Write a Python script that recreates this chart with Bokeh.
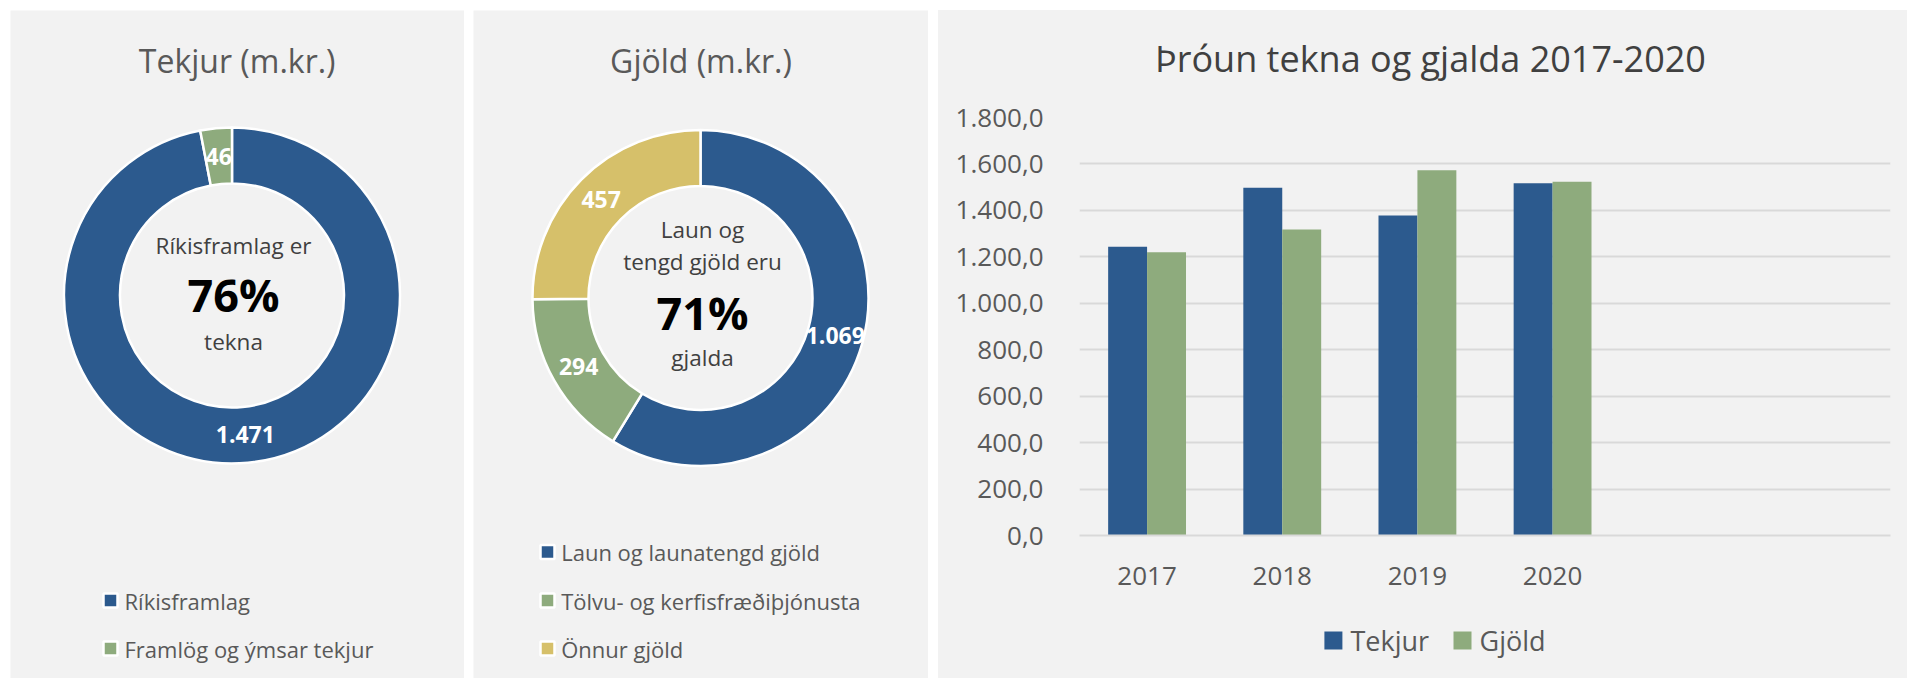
import math
from bokeh.plotting import figure
from bokeh.layouts import row, column
from bokeh.models import Range1d, FactorRange, FixedTicker, ColumnDataSource
from bokeh.transform import dodge
from bokeh.core.properties import value
from bokeh.embed import file_html
from bokeh.resources import INLINE

# ---------------- data ----------------
tekjur_labels = ["Ríkisframlag", "Framlög og ýmsar tekjur"]
tekjur_values = [1471, 46]
tekjur_center = ["Ríkisframlag er", "76%", "tekna"]

gjold_labels = ["Laun og launatengd gjöld", "Tölvu- og kerfisfræðiþjónusta", "Önnur gjöld"]
gjold_values = [1069, 294, 457]
gjold_center = ["Laun og", "tengd gjöld eru", "71%", "gjalda"]

years = ["2017", "2018", "2019", "2020"]
empty_slots = [" ", "  "]
bar_series = ["Tekjur", "Gjöld"]
bar_tekjur = [1243, 1497, 1378, 1517]
bar_gjold = [1220, 1318, 1573, 1523]
y_ticks = [0, 200, 400, 600, 800, 1000, 1200, 1400, 1600, 1800]
y_tick_labels = ["0,0", "200,0", "400,0", "600,0", "800,0", "1.000,0",
                 "1.200,0", "1.400,0", "1.600,0", "1.800,0"]

titles = ["Tekjur (m.kr.)", "Gjöld (m.kr.)", "Þróun tekna og gjalda 2017-2020"]

# ---------------- style ----------------
FONT = "Open Sans"
BG = "#f2f2f2"
BLUE = "#2c5a8e"
GREEN = "#8eab7d"
GOLD = "#d6c06a"
GRAY = "#595959"
DARK = "#404040"

BL, BR = 141, 17  # bar panel side borders (frame alignment in the column)


def fmt(v):
    return f"{v:,}".replace(",", ".")


def base_fig(w, h, x0=0, x1=None, bl=0, br=0):
    p = figure(width=w, height=h, x_range=Range1d(x0, w if x1 is None else x1),
               y_range=Range1d(0, h),
               x_axis_type=None, y_axis_type=None,
               output_backend="svg", toolbar_location=None, min_border=0,
               min_border_left=bl, min_border_right=br,
               background_fill_color=BG, border_fill_color=BG, outline_line_color=None)
    p.grid.visible = False
    return p


def donut(p, values, colors, cx, cy):
    tot = float(sum(values))
    cum = 0.0
    starts, ends, lx, ly = [], [], [], []
    for v in values:
        a0 = math.pi / 2 - 2 * math.pi * cum / tot
        cum += v
        a1 = math.pi / 2 - 2 * math.pi * cum / tot
        starts.append(a0)
        ends.append(a1)
        m = (a0 + a1) / 2
        lx.append(cx + 140 * math.cos(m))
        ly.append(cy + 140 * math.sin(m))
    src = ColumnDataSource(dict(x=[cx] * len(values), y=[cy] * len(values),
                                s=starts, e=ends, c=colors))
    p.annular_wedge(x="x", y="y", inner_radius=112, outer_radius=168,
                    start_angle="s", end_angle="e", direction="clock",
                    fill_color="c", line_color="white", line_width=2.5, source=src)
    p.text(x=lx, y=ly, text=[fmt(v) for v in values], text_font=value(FONT),
           text_font_size="23px", text_font_style="bold", text_color="white",
           text_align="center", text_baseline="middle")


def legend(p, labels, colors, mx, tx, ys, size="22px"):
    p.scatter(x=[mx] * len(labels), y=ys, marker="square", size=14,
              fill_color=colors, line_color="white", line_width=2.5)
    p.text(x=[tx] * len(labels), y=ys, text=labels, text_font=value(FONT),
           text_font_size=size, text_color=GRAY, text_align="left",
           text_baseline="middle")


# ---------------- panel 1: Tekjur ----------------
H = 668
p1 = base_fig(454, H)
p1.text(x=[226.7], y=[618], text=[titles[0]], text_font=value(FONT),
        text_font_size="32px", text_color=GRAY, text_align="center", text_baseline="middle")
donut(p1, tekjur_values, [BLUE, GREEN], 221.5, 383)
p1.text(x=[223, 223], y=[433, 337], text=[tekjur_center[0], tekjur_center[2]],
        text_font=value(FONT), text_font_size="22.5px", text_color=DARK,
        text_align="center", text_baseline="middle")
p1.text(x=[223], y=[384], text=[tekjur_center[1]], text_font=value(FONT),
        text_font_size="45px", text_font_style="bold", text_color="black",
        text_align="center", text_baseline="middle")
legend(p1, tekjur_labels, [BLUE, GREEN], 100, 114, [78, 30])
p1.margin = (10, 0, 0, 10)

# ---------------- panel 2: Gjöld ----------------
p2 = base_fig(455, H)
p2.text(x=[227.5], y=[618], text=[titles[1]], text_font=value(FONT),
        text_font_size="32px", text_color=GRAY, text_align="center", text_baseline="middle")
donut(p2, gjold_values, [BLUE, GREEN, GOLD], 227, 380.5)
p2.text(x=[229, 229, 229], y=[449.5, 417.5, 321],
        text=[gjold_center[0], gjold_center[1], gjold_center[3]],
        text_font=value(FONT), text_font_size="22.5px", text_color=DARK,
        text_align="center", text_baseline="middle")
p2.text(x=[229], y=[366], text=[gjold_center[2]], text_font=value(FONT),
        text_font_size="45px", text_font_style="bold", text_color="black",
        text_align="center", text_baseline="middle")
legend(p2, gjold_labels, [BLUE, GREEN, GOLD], 74, 87.7, [126.5, 78, 30])
p2.margin = (10, 0, 0, 9)

# ---------------- panel 3: bar chart ----------------
W3 = 969
pt = base_fig(W3, 80, x0=BL, x1=W3 - BR, bl=BL, br=BR)
pt.text(x=[492], y=[31.6], text=[titles[2]], text_font=value(FONT),
        text_font_size="36px", text_color=DARK, text_align="center", text_baseline="middle")

factors = years + empty_slots
src = ColumnDataSource(dict(year=years, tekjur=bar_tekjur, gjold=bar_gjold))
pb = figure(width=W3, height=510, x_range=FactorRange(factors=factors, range_padding=0),
            y_range=Range1d(0, 1800), output_backend="svg", toolbar_location=None,
            min_border_left=BL, min_border_right=BR, min_border_top=27, min_border_bottom=65,
            background_fill_color=BG, border_fill_color=BG, outline_line_color=None)
pb.vbar(x=dodge("year", -0.144, range=pb.x_range), top="tekjur", width=0.288,
        source=src, fill_color=BLUE, line_color=None)
pb.vbar(x=dodge("year", 0.144, range=pb.x_range), top="gjold", width=0.288,
        source=src, fill_color=GREEN, line_color=None)
pb.xgrid.visible = False
pb.ygrid.ticker = FixedTicker(ticks=y_ticks)
pb.ygrid.grid_line_color = "#d9d9d9"
pb.ygrid.grid_line_width = 2
pb.yaxis.ticker = FixedTicker(ticks=y_ticks)
pb.yaxis.major_label_overrides = {t: l for t, l in zip(y_ticks, y_tick_labels)}
for ax in (pb.xaxis, pb.yaxis):
    ax.axis_line_color = None
    ax.major_tick_line_color = None
    ax.minor_tick_line_color = None
    ax.major_label_text_font = FONT
    ax.major_label_text_font_size = "26px"
    ax.major_label_text_color = GRAY
pb.xaxis.axis_line_color = "#d9d9d9"
pb.xaxis.axis_line_width = 2
pb.yaxis.major_label_standoff = 30
pb.xaxis.major_label_standoff = 15

pl = base_fig(W3, 78, x0=BL, x1=W3 - BR, bl=BL, br=BR)
pl.scatter(x=[394.9, 524], y=[38, 38], marker="square", size=18,
           fill_color=[BLUE, GREEN], line_color=None)
pl.text(x=[412, 541], y=[38, 38], text=bar_series, text_font=value(FONT),
        text_font_size="27px", text_color=GRAY, text_align="left", text_baseline="middle")

col3 = column(pt, pb, pl, spacing=0, margin=(10, 0, 0, 10),
              styles={"background-color": BG})
layout = row(p1, p2, col3, spacing=0)

open("out.html", "w").write(file_html(layout, INLINE))
